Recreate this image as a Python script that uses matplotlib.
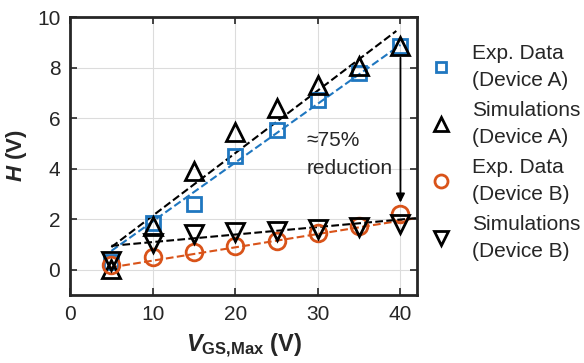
import matplotlib.pyplot as plt

plt.rcParams['font.family'] = ['Liberation Sans', 'DejaVu Sans']
plt.rcParams['mathtext.fontset'] = 'custom'
plt.rcParams['mathtext.it'] = 'Liberation Sans:italic:bold'
plt.rcParams['mathtext.bf'] = 'Liberation Sans:bold'
plt.rcParams['mathtext.rm'] = 'Liberation Sans:bold'

# ---------------------------------------------------------------------------
# Data
# ---------------------------------------------------------------------------

vgs = [5, 10, 15, 20, 25, 30, 35, 40]

exp_a = [0.30, 1.85, 2.60, 4.50, 5.55, 6.70, 7.80, 8.85]
sim_a = [0.05, 1.75, 3.90, 5.45, 6.40, 7.30, 8.05, 8.85]
exp_b = [0.20, 0.50, 0.70, 0.93, 1.15, 1.45, 1.75, 2.20]
sim_b = [0.35, 1.05, 1.40, 1.50, 1.55, 1.60, 1.70, 1.80]

# dashed trend lines (end points)
fit_exp_a_x = [5, 40]
fit_exp_a_y = [0.75, 8.90]
fit_sim_a_x = [5, 39.5]
fit_sim_a_y = [0.90, 9.45]
fit_exp_b_x = [5, 42]
fit_exp_b_y = [0.10, 2.05]
fit_sim_b_x = [5, 42]
fit_sim_b_y = [0.95, 2.05]

blue = '#1f77c0'
orange = '#d95319'

# ---------------------------------------------------------------------------
# Figure
# ---------------------------------------------------------------------------

fig = plt.figure(figsize=(5.84, 3.63), dpi=100)
ax = fig.add_axes([0.12, 0.187, 0.594, 0.766])

ax.plot(fit_exp_a_x, fit_exp_a_y, '--', color=blue, lw=1.5, zorder=2)
ax.plot(fit_sim_a_x, fit_sim_a_y, '--', color='black', lw=1.5, zorder=2)
ax.plot(fit_exp_b_x, fit_exp_b_y, '--', color=orange, lw=1.5, zorder=2)
ax.plot(fit_sim_b_x, fit_sim_b_y, '--', color='black', lw=1.5, zorder=2)

ax.plot(vgs, exp_a, 's', ms=9.5, mfc='none', mec=blue, mew=2,
        label='Exp. Data\n(Device A)', zorder=3)
ax.plot(vgs, sim_a, '^', ms=13, mfc='none', mec='black', mew=2,
        label='Simulations\n(Device A)', zorder=3)
ax.plot(vgs, exp_b, 'o', ms=12, mfc='none', mec=orange, mew=2,
        label='Exp. Data\n(Device B)', zorder=3)
ax.plot(vgs, sim_b, 'v', ms=13, mfc='none', mec='black', mew=2,
        label='Simulations\n(Device B)', zorder=3)

# reduction arrow
ax.annotate('', xy=(40, 2.55), xytext=(40, 8.5),
            arrowprops=dict(arrowstyle='-|>', color='black', lw=1.3,
                            mutation_scale=13))
ax.text(28.6, 5.1, '\u224875%', fontsize=15, va='center', ha='left',
        color='#262626')
ax.text(28.6, 4.0, 'reduction', fontsize=15, va='center', ha='left',
        color='#262626')

ax.set_xlim(0, 42)
ax.set_ylim(-1, 10)
ax.set_xticks([0, 10, 20, 30, 40])
ax.set_yticks([0, 2, 4, 6, 8, 10])
ax.tick_params(direction='in', length=5, width=1.2, labelsize=15, pad=7,
               top=True, right=True, colors='#262626', labelcolor='#262626')
ax.grid(True, color='#dcdcdc', lw=0.8)
ax.set_axisbelow(True)
for s in ax.spines.values():
    s.set_linewidth(2)
    s.set_color('#262626')

ax.set_xlabel(r'$V_{\mathbf{GS{,}Max}}$ (V)', fontsize=17, fontweight='bold',
              labelpad=6, color='#262626')
ax.set_ylabel(r'$H$ (V)', fontsize=16, fontweight='bold', labelpad=6,
              color='#262626')

leg = ax.legend(loc='upper left', bbox_to_anchor=(1.0, 0.95), frameon=False,
                fontsize=15, handlelength=1.0, handletextpad=1.0,
                labelspacing=0.53, borderaxespad=0.24, markerscale=0.78,
                labelcolor='#262626')
for t in leg.get_texts():
    t.set_linespacing(1.52)

fig.savefig('out.png', dpi=100)
